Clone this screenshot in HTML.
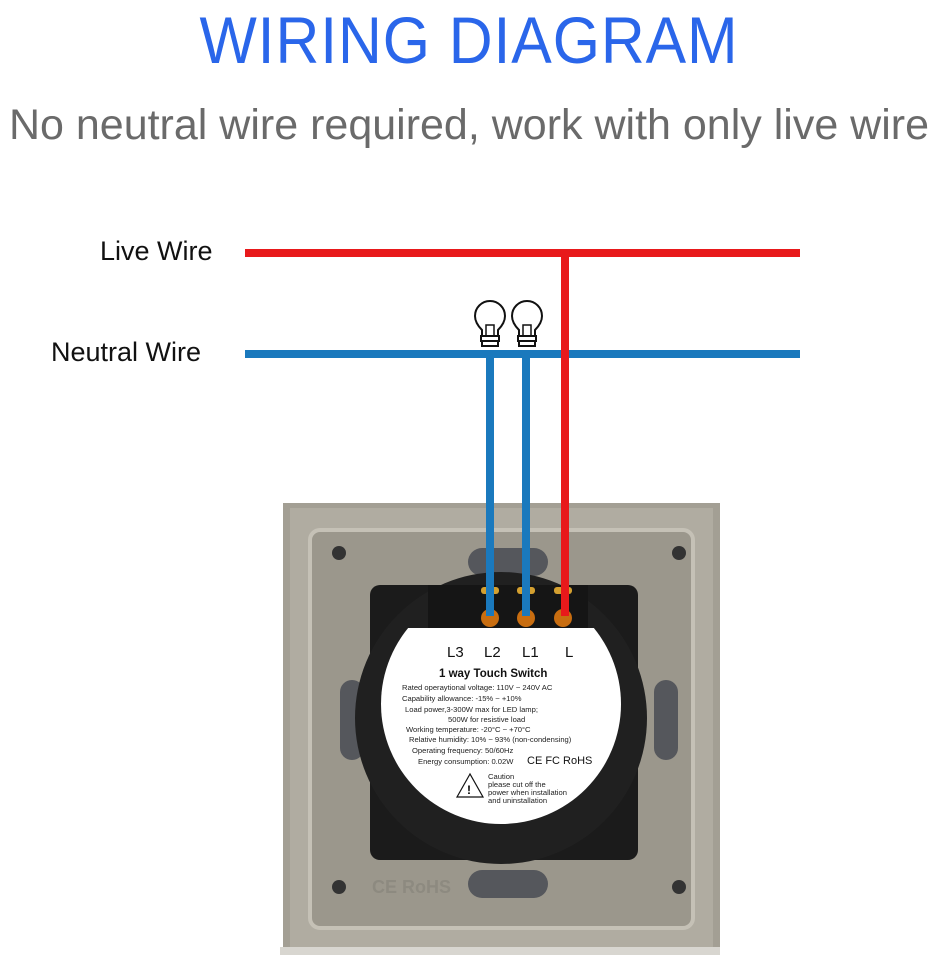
<!DOCTYPE html>
<html><head><style>
body{margin:0;width:938px;height:964px;background:#fff;position:relative;overflow:hidden;font-family:"Liberation Sans",sans-serif}
.a{position:absolute}
</style></head><body>
<div class="a" style="left:0;width:938px;top:2px;text-align:center;font-size:66px;color:#2a66ea;letter-spacing:1px;transform:scaleX(0.92);-webkit-text-stroke:0px">WIRING DIAGRAM</div>
<div class="a" style="left:0;width:938px;top:101px;text-align:center;font-size:43px;color:#6a6a6a;white-space:nowrap;transform:scaleX(1.0)">No neutral wire required, work with only live wire</div>
<div class="a" style="left:100px;top:236px;font-size:27px;color:#111">Live Wire</div>
<div class="a" style="left:51px;top:337px;font-size:27px;color:#111">Neutral Wire</div>
<svg class="a" style="left:0;top:0" width="938" height="964">
<defs><clipPath id="c"><rect x="300" y="628" width="400" height="300"/></clipPath></defs>
<!-- plate -->
<rect x="283" y="503" width="437" height="452" fill="#a39f94"/>
<rect x="290" y="508" width="423" height="440" fill="#b0aca1"/>
<rect x="310" y="530" width="383" height="398" rx="10" fill="#9b978c" stroke="#c5c1b6" stroke-width="4"/>
<rect x="280" y="947" width="440" height="8" fill="#d8d6d0"/>
<circle cx="339" cy="553" r="7" fill="#333"/><circle cx="679" cy="553" r="7" fill="#333"/>
<circle cx="339" cy="887" r="7" fill="#333"/><circle cx="679" cy="887" r="7" fill="#333"/>
<rect x="468" y="548" width="80" height="28" rx="14" fill="#55575c"/>
<rect x="468" y="870" width="80" height="28" rx="14" fill="#55575c"/>
<rect x="340" y="680" width="24" height="80" rx="12" fill="#55575c"/>
<rect x="654" y="680" width="24" height="80" rx="12" fill="#55575c"/>
<text x="372" y="893" font-size="18" fill="#8d8a80" font-weight="bold">CE RoHS</text>
<!-- module -->
<rect x="370" y="585" width="268" height="275" rx="10" fill="#1b1b1b"/>
<circle cx="501" cy="718" r="146" fill="#202020"/>
<rect x="428" y="585" width="160" height="43" fill="#151515"/>
<circle cx="409" cy="652" r="13" fill="#333"/>
<circle cx="501" cy="704" r="120" fill="#fff" clip-path="url(#c)"/>
<g fill="#c86d10"><circle cx="490" cy="618" r="9"/><circle cx="526" cy="618" r="9"/><circle cx="563" cy="618" r="9"/></g>
<g fill="#d4a030"><rect x="481" y="587" width="18" height="7" rx="3"/><rect x="517" y="587" width="18" height="7" rx="3"/><rect x="554" y="587" width="18" height="7" rx="3"/></g>
<g font-size="15" fill="#111"><text x="447" y="657">L3</text><text x="484" y="657">L2</text><text x="522" y="657">L1</text><text x="565" y="657">L</text></g>
<text x="439" y="677" font-size="11.5" font-weight="bold" fill="#111">1 way Touch Switch</text>
<g font-size="7.6" fill="#222">
<text x="402" y="690">Rated operaytional voltage: 110V ~ 240V AC</text>
<text x="402" y="701">Capability allowance: -15%  ~ +10%</text>
<text x="405" y="712">Load power,3-300W max for LED lamp;</text>
<text x="448" y="722">500W for resistive load</text>
<text x="406" y="732">Working temperature: -20°C ~ +70°C</text>
<text x="409" y="742">Relative humidity: 10% ~ 93% (non-condensing)</text>
<text x="412" y="753">Operating frequency: 50/60Hz</text>
<text x="418" y="764">Energy consumption: 0.02W</text>
<text x="488" y="779">Caution</text><text x="488" y="787">please cut off the</text><text x="488" y="795">power when installation</text><text x="488" y="803">and uninstallation</text>
</g>
<text x="527" y="764" font-size="11" fill="#111">CE  FC  RoHS</text>
<polygon points="470,774 457,797 483,797" fill="none" stroke="#111" stroke-width="1.2"/>
<text x="467" y="794" font-size="12" font-weight="bold">!</text>
<!-- wires -->
<rect x="245" y="249" width="555" height="8" fill="#e8191b"/>
<rect x="245" y="350" width="555" height="8" fill="#1a79bd"/>
<rect x="486" y="354" width="8" height="262" fill="#1a79bd"/>
<rect x="522" y="354" width="8" height="262" fill="#1a79bd"/>
<rect x="561" y="253" width="8" height="363" fill="#e8191b"/>
<!-- bulbs -->
<g fill="#fff" stroke="#111" stroke-width="2">
<path d="M482,336 L482,330 Q475,323 475,316 A15,15 0 1 1 505,316 Q505,323 498,330 L498,336 Z"/>
<rect x="481" y="336" width="18" height="5"/><rect x="482" y="341" width="16" height="5"/>
<path d="M519,336 L519,330 Q512,323 512,316 A15,15 0 1 1 542,316 Q542,323 535,330 L535,336 Z"/>
<rect x="518" y="336" width="18" height="5"/><rect x="519" y="341" width="16" height="5"/>
</g>
<g stroke="#111" stroke-width="1.5" fill="none"><path d="M486,336 L486,325 L494,325 L494,336"/><path d="M523,336 L523,325 L531,325 L531,336"/></g>
</svg>
</body></html>
